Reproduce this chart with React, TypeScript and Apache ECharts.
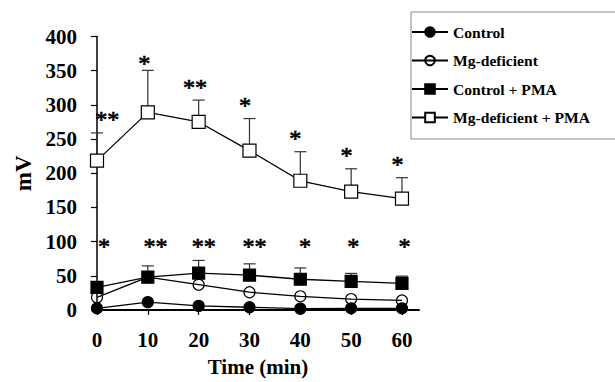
import React, { useEffect, useRef } from "react";
import * as echarts from "echarts";

const times = [0, 10, 20, 30, 40, 50, 60];
const xTickLabels = [0, 10, 20, 30, 40, 50, 60];
const yTickLabels = [0, 50, 100, 150, 200, 250, 300, 350, 400];

const seriesNames = ["Control", "Mg-deficient", "Control + PMA", "Mg-deficient + PMA"];

const control = [2.5, 11.5, 6, 4, 2, 2.5, 2.5];
const mgDef = [18.5, 48, 37, 26, 20, 16, 14];
const controlPMA = [33, 48, 54, 51, 45, 42, 39];
const mgDefPMA = [218.5, 289, 275, 233, 189, 173, 163];

const controlPMAUpper = [33, 64.5, 72.5, 67.5, 61.5, 53.5, 49.5];
const mgDefPMAUpper = [259, 350.5, 307, 280, 231.5, 206.5, 193.5];

const upperStars: [number, number, string][] = [
  [2, 287, "**"],
  [9.3, 369, "*"],
  [19.3, 334, "**"],
  [29.1, 307, "*"],
  [39, 259, "*"],
  [49.1, 234.5, "*"],
  [59.1, 220.5, "*"],
];
const lowerStars: [number, number, string][] = [
  [1.4, 101, "*"],
  [11.5, 101, "**"],
  [21, 101, "**"],
  [31, 101, "**"],
  [40.9, 101, "*"],
  [50.4, 101, "*"],
  [60.5, 101, "*"],
];

const FONT = "'Liberation Serif', 'Times New Roman', serif";

export default function App() {
  const ref = useRef<HTMLDivElement>(null);
  useEffect(() => {
    if (!ref.current) return;
    const chart = echarts.init(ref.current, null, { renderer: "svg" });
    const pair = (ys: number[]) => times.map((t, i) => [t, ys[i]]);
    const errData = (means: number[], uppers: number[]) =>
      times.map((t, i) => [t, means[i], uppers[i]]);

    const errSeries = (name: string, means: number[], uppers: number[]) => ({
      type: "custom",
      name: name + "-err",
      z: 1,
      silent: true,
      data: errData(means, uppers),
      encode: { x: 0, y: [1, 2] },
      renderItem: (params: any, api: any) => {
        const x = api.value(0);
        const lo = api.coord([x, api.value(1)]);
        const hi = api.coord([x, api.value(2)]);
        const style = { stroke: "#333", lineWidth: 1.2 };
        return {
          type: "group",
          children: [
            { type: "line", shape: { x1: lo[0], y1: lo[1], x2: hi[0], y2: hi[1] }, style },
            { type: "line", shape: { x1: hi[0] - 6, y1: hi[1], x2: hi[0] + 6, y2: hi[1] }, style },
          ],
        };
      },
    });

    const lineSeries = (name: string, ys: number[], symbol: string, size: number, fill: string) => ({
      type: "line",
      name,
      z: 3,
      data: pair(ys),
      symbol,
      symbolSize: size,
      showSymbol: true,
      clip: false,
      lineStyle: { color: "#000", width: 1.3 },
      itemStyle: { color: fill, borderColor: "#000", borderWidth: 1.2 },
    });

    const starSeries = (name: string, d: [number, number, string][]) => ({
      type: "scatter",
      name,
      z: 4,
      silent: true,
      symbolSize: 1,
      color: "#000",
      itemStyle: { color: "#000", opacity: 0 },
      data: d.map((s) => [s[0], s[1], s[2]]),
      label: {
        show: true,
        position: "inside",
        offset: [0, 5],
        formatter: (p: any) => p.data[2],
        fontFamily: FONT,
        fontSize: 24,
        color: "#000",
        textBorderWidth: 0.7,
        textBorderColor: "#000",
        opacity: 1,
      },
    });

    chart.setOption({
      animation: false,
      backgroundColor: "#fff",
      grid: { left: 97, top: 36.5, width: 322, height: 279 },
      legend: {
        orient: "vertical",
        left: 411,
        top: 24,
        itemWidth: 36,
        itemHeight: 12,
        itemGap: 12.5,
        padding: 0,
        data: seriesNames,
        textStyle: { fontFamily: FONT, fontWeight: "bold", fontSize: 15.6, color: "#000" },
        selectedMode: false,
      },
      xAxis: {
        type: "value",
        min: 0,
        max: 63.35,
        name: "Time (min)",
        nameLocation: "middle",
        nameGap: 46,
        nameTextStyle: { fontFamily: FONT, fontWeight: "bold", fontSize: 21, color: "#000" },
        splitLine: { show: false },
        axisLine: { lineStyle: { color: "#000", width: 2 } },
        axisTick: { customValues: xTickLabels, length: 5, lineStyle: { color: "#000", width: 1.2 } },
        axisLabel: {
          customValues: xTickLabels,
          margin: 19,
          fontFamily: FONT,
          fontWeight: "bold",
          fontSize: 21,
          color: "#000",
        },
      },
      yAxis: {
        type: "value",
        min: 0,
        max: 400,
        interval: 50,
        name: "mV",
        nameLocation: "middle",
        nameGap: 60,
        nameRotate: 90,
        nameTextStyle: { fontFamily: FONT, fontWeight: "bold", fontSize: 23, color: "#000" },
        splitLine: { show: false },
        axisLine: { show: true, lineStyle: { color: "#000", width: 1.5 } },
        axisTick: { show: true, length: 6, lineStyle: { color: "#000", width: 1.2 } },
        axisLabel: {
          margin: 20,
          fontFamily: FONT,
          fontWeight: "bold",
          fontSize: 21,
          color: "#000",
          formatter: (v: number) => (yTickLabels.includes(v) ? String(v) : ""),
        },
      },
      graphic: [
        {
          type: "rect",
          shape: { x: 411, y: 12, width: 220, height: 127 },
          style: { fill: "none", stroke: "#888", lineWidth: 1 },
          silent: true,
        },
      ],
      series: [
        errSeries("Control + PMA", controlPMA, controlPMAUpper),
        errSeries("Mg-deficient + PMA", mgDefPMA, mgDefPMAUpper),
        lineSeries("Control", control, "circle", 11, "#000"),
        lineSeries("Mg-deficient", mgDef, "circle", 11, "rgba(255,255,255,0)"),
        lineSeries("Control + PMA", controlPMA, "rect", 12, "#000"),
        lineSeries("Mg-deficient + PMA", mgDefPMA, "rect", 13, "#fff"),
        starSeries("stars-upper", upperStars),
        starSeries("stars-lower", lowerStars),
      ],
    });
    return () => chart.dispose();
  }, []);
  return <div ref={ref} style={{ width: 615, height: 382, position: "absolute", left: 0, top: 0 }} />;
}
